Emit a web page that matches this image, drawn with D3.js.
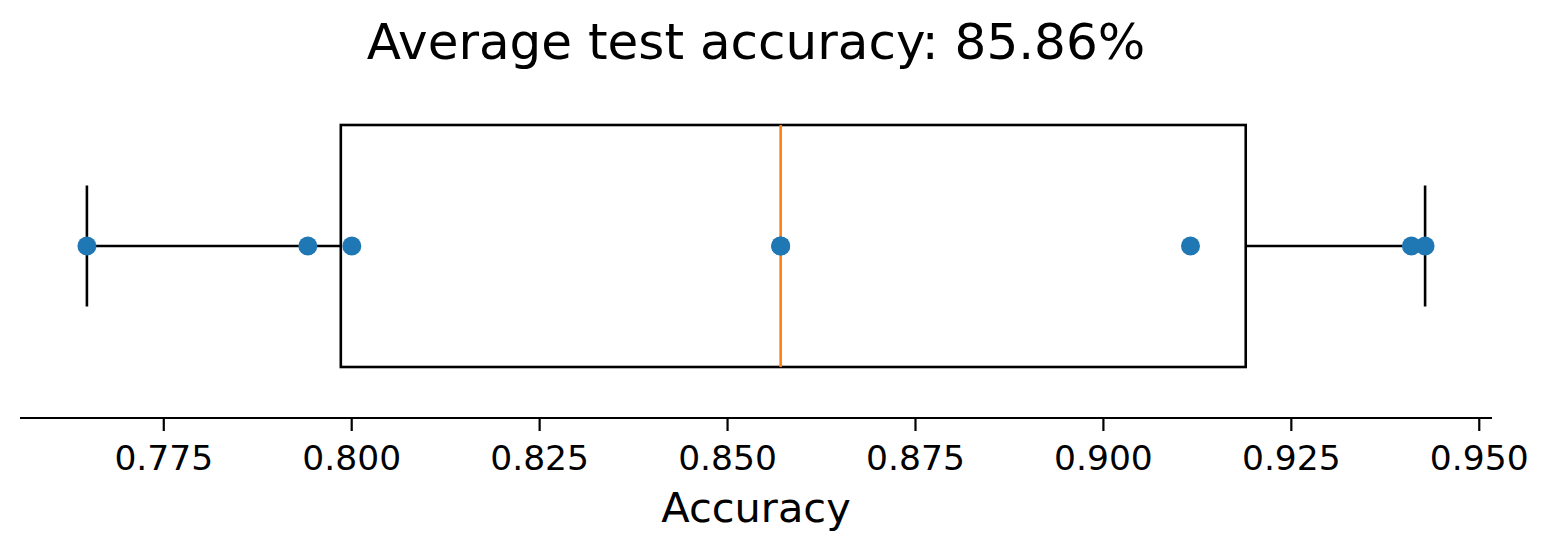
<!DOCTYPE html>
<html>
<head>
<meta charset="utf-8">
<script src="https://cdn.jsdelivr.net/npm/d3@7"></script>
<style>
  html, body { margin: 0; padding: 0; background: #fff; }
  svg { display: block; font-family: "DejaVu Sans", sans-serif; }
</style>
</head>
<body>
<svg id="chart" width="1547" height="549"></svg>
<script>
// ---- data ----
const accuracies = [0.76484, 0.79423, 0.80008, 0.85713, 0.85713, 0.91165, 0.94104, 0.94286];
const tickValues = [0.775, 0.800, 0.825, 0.850, 0.875, 0.900, 0.925, 0.950];
const titleText = "Average test accuracy: 85.86%";
const xLabelText = "Accuracy";

// ---- layout ----
const W = 1547, H = 549;
const plotLeft = 20, plotRight = 1492, plotBottom = 418;
const centerY = 246, halfBox = 121;
const lw = 2.6;

const svg = d3.select("#chart");

// box statistics (linear-interpolated quartiles, whiskers at 1.5 IQR)
const sorted = accuracies.slice().sort(d3.ascending);
const q1 = d3.quantile(sorted, 0.25);
const med = d3.quantile(sorted, 0.5);
const q3 = d3.quantile(sorted, 0.75);
const iqr = q3 - q1;
const loW = d3.min(sorted.filter(v => v >= q1 - 1.5 * iqr));
const hiW = d3.max(sorted.filter(v => v <= q3 + 1.5 * iqr));

// x scale with 5% margins like matplotlib
const lo = d3.min(sorted), hi = d3.max(sorted);
const pad = (hi - lo) * 0.05;
const x = d3.scaleLinear().domain([lo - pad, hi + pad]).range([plotLeft, plotRight]);

// y scale: box position 1, width 0.5
const y = d3.scaleLinear().domain([0.5, 1.5]).range([centerY + 2 * halfBox, centerY - 2 * halfBox]);

const g = svg.append("g");

// whiskers
g.append("line").attr("x1", x(loW)).attr("x2", x(q1)).attr("y1", y(1)).attr("y2", y(1))
  .attr("stroke", "#000").attr("stroke-width", lw);
g.append("line").attr("x1", x(q3)).attr("x2", x(hiW)).attr("y1", y(1)).attr("y2", y(1))
  .attr("stroke", "#000").attr("stroke-width", lw);
// caps
[loW, hiW].forEach(v => {
  g.append("line").attr("x1", x(v)).attr("x2", x(v)).attr("y1", y(1.125)).attr("y2", y(0.875))
    .attr("stroke", "#000").attr("stroke-width", lw);
});
// box
g.append("rect").attr("x", x(q1)).attr("y", y(1.25))
  .attr("width", x(q3) - x(q1)).attr("height", y(0.75) - y(1.25))
  .attr("fill", "none").attr("stroke", "#000").attr("stroke-width", lw);
// median
g.append("line").attr("x1", x(med)).attr("x2", x(med)).attr("y1", y(1.25)).attr("y2", y(0.75))
  .attr("stroke", "#ff7f0e").attr("stroke-width", lw);

// points
g.selectAll("circle.pt").data(accuracies).enter().append("circle")
  .attr("class", "pt")
  .attr("cx", d => x(d)).attr("cy", y(1)).attr("r", 9.5)
  .attr("fill", "#1f77b4");

// x axis
const axis = d3.axisBottom(x).tickValues(tickValues).tickFormat(d3.format(".3f"))
  .tickSize(13).tickPadding(12).tickSizeOuter(0);
const ax = svg.append("g").attr("transform", `translate(0,${plotBottom})`).call(axis);
ax.select(".domain").attr("stroke", "#000").attr("stroke-width", 2.2).attr("d", `M${plotLeft},0H${plotRight}`);
ax.selectAll(".tick line").attr("stroke", "#000").attr("stroke-width", 2.2);
ax.selectAll(".tick text").attr("fill", "#000").attr("font-size", 34.5)
  .attr("font-family", "DejaVu Sans").attr("dy", null).attr("y", 52)
  .attr("dominant-baseline", "alphabetic");

// title
svg.append("text").attr("x", (plotLeft + plotRight) / 2).attr("y", 58.5)
  .attr("text-anchor", "middle").attr("font-size", 50).attr("fill", "#000")
  .text(titleText);

// x label
svg.append("text").attr("x", (plotLeft + plotRight) / 2).attr("y", 521.5)
  .attr("text-anchor", "middle").attr("font-size", 41.5).attr("fill", "#000")
  .text(xLabelText);
</script>
</body>
</html>
